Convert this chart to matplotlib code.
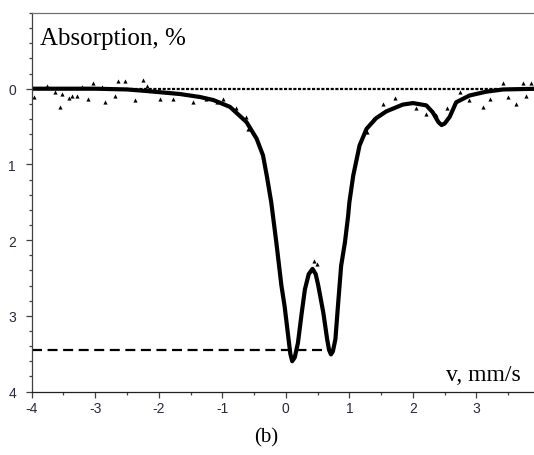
import matplotlib.pyplot as plt
from matplotlib.ticker import MultipleLocator

plt.rcParams['axes.unicode_minus'] = False

# fitted curve (velocity mm/s, absorption %)
v_fit = [-4.0, -3.0, -2.5, -2.2, -1.67, -1.35, -1.14, -0.88, -0.62, -0.46, -0.36,
         -0.30, -0.23, -0.15, -0.07, -0.02, 0.03, 0.07, 0.10, 0.14, 0.19, 0.25,
         0.30, 0.36, 0.42, 0.47, 0.51, 0.59, 0.65, 0.68, 0.71, 0.74, 0.78, 0.82,
         0.87, 0.93, 0.98, 1.00, 1.06, 1.16, 1.27, 1.42, 1.58, 1.84, 2.00, 2.21,
         2.31, 2.40, 2.45, 2.50, 2.58, 2.68, 2.89, 3.15, 3.42, 4.0]
a_fit = [0.0, 0.0, 0.01, 0.03, 0.07, 0.11, 0.15, 0.24, 0.44, 0.66, 0.88,
         1.15, 1.50, 2.03, 2.60, 2.87, 3.22, 3.50, 3.60, 3.55, 3.36, 2.96,
         2.65, 2.45, 2.38, 2.45, 2.60, 2.96, 3.31, 3.45, 3.51, 3.47, 3.31, 2.87,
         2.34, 2.03, 1.68, 1.50, 1.15, 0.75, 0.53, 0.39, 0.30, 0.21, 0.19, 0.22,
         0.31, 0.44, 0.48, 0.46, 0.37, 0.18, 0.09, 0.04, 0.01, 0.0]

# scattered experimental points visible off the curve
v_pts = [-3.96, -3.76, -3.63, -3.55, -3.53, -3.42, -3.37, -3.29, -3.21, -3.11,
         -3.03, -2.90, -2.85, -2.69, -2.64, -2.53, -2.38, -2.25, -2.19, -1.98,
         -1.77, -1.46, -1.25, -1.09, -0.99, -0.78, -0.62, -0.59, 0.45, 0.49,
         1.27, 1.37, 1.53, 1.72, 2.05, 2.21, 2.37, 2.53, 2.74, 2.89, 3.10, 3.21,
         3.42, 3.50, 3.63, 3.73, 3.78, 3.86]
a_pts = [0.11, -0.04, 0.04, 0.24, 0.07, 0.12, 0.10, 0.09, -0.02, 0.13,
         -0.07, -0.02, 0.18, 0.09, -0.10, -0.10, 0.15, -0.12, -0.04, 0.13,
         0.13, 0.18, 0.13, 0.18, 0.13, 0.26, 0.37, 0.53, 2.28, 2.31,
         0.57, 0.40, 0.20, 0.12, 0.26, 0.33, 0.35, 0.26, 0.05, 0.15, 0.24, 0.13,
         -0.07, 0.11, 0.20, -0.07, 0.09, -0.07]

level = 3.45
level_end = 0.75

fig = plt.figure(figsize=(5.34, 4.56), dpi=100)
ax = fig.add_axes([31.7 / 534, 63.5 / 456, 508.3 / 534, 378.5 / 456])

ax.plot([-4, 4], [0, 0], color='black', lw=1.6, linestyle=(0, (1.4, 0.7)))
ax.plot(v_pts, a_pts, '^', color='black', markersize=3.0, markeredgewidth=0)
ax.plot(v_fit, a_fit, color='black', lw=3.0, solid_joinstyle='round')
ax.plot([-4, level_end], [level, level], color='black', lw=1.6, linestyle=(0, (4.5, 2.5)))

ax.set_xlim(-4, 4)
ax.set_ylim(4, -1)
ax.set_yticks([0, 1, 2, 3, 4])
ax.yaxis.set_minor_locator(MultipleLocator(0.2))
ax.xaxis.set_major_locator(MultipleLocator(1))
ax.xaxis.set_minor_locator(MultipleLocator(0.5))

ax.spines['right'].set_visible(False)
ax.spines['top'].set_color('#707070')
ax.spines['left'].set_color('#404040')
ax.spines['bottom'].set_color('#202020')
for s in ax.spines.values():
    s.set_linewidth(0.9)

ax.tick_params(which='major', direction='out', length=4.3, width=0.9, color='#404040',
               labelsize=10, labelcolor='#262a3a', labelfontfamily='Liberation Sans')
ax.tick_params(which='minor', direction='out', length=2.2, width=0.9, color='#404040')
ax.tick_params(axis='y', which='major', pad=7)
ax.tick_params(axis='x', which='major', pad=2.5)

ax.text(40 / 534, 1 - 28 / 456, 'Absorption, %', transform=fig.transFigure,
        fontsize=18, family='Liberation Serif', ha='left', va='top')
ax.text(521 / 534, 1 - 381 / 456, 'v, mm/s', transform=fig.transFigure,
        fontsize=17, family='Liberation Serif', ha='right', va='baseline')
fig.text(266 / 534, 1 - 438 / 456, '(b)', fontsize=15, family='Liberation Serif',
         ha='center', va='center')

fig.savefig('out.png', dpi=100, facecolor='white')
